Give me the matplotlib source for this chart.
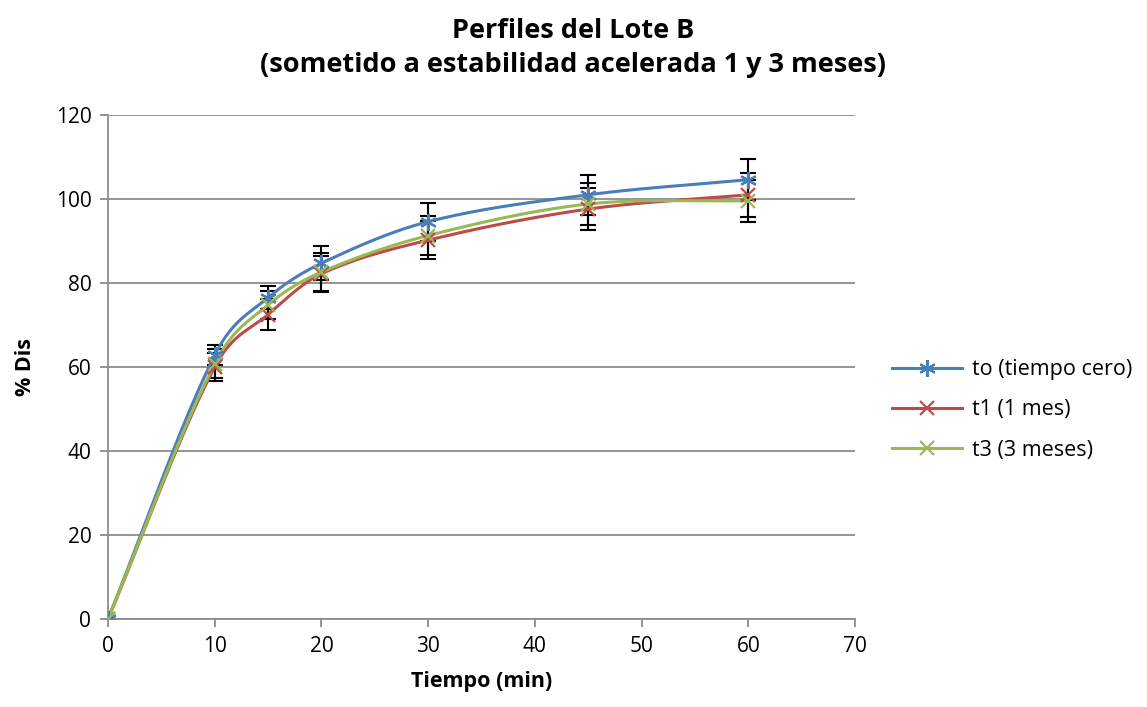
import numpy as np
import matplotlib
matplotlib.use("Agg")
import matplotlib.pyplot as plt
from matplotlib.lines import Line2D

plt.rcParams['font.family'] = ['Open Sans', 'DejaVu Sans']

tiempo = [0, 10, 15, 20, 30, 45, 60]
t0_vals = [0, 62.8, 76.5, 84.7, 94.6, 101.0, 104.6]
t0_err = [0, 2.4, 2.8, 4.1, 4.5, 4.7, 4.9]
t1_vals = [0, 60.0, 72.5, 82.2, 90.2, 97.6, 101.0]
t1_err = [0, 3.3, 3.7, 4.3, 4.5, 5.0, 5.2]
t3_vals = [0, 60.8, 74.8, 82.6, 91.3, 98.8, 99.6]
t3_err = [0, 3.4, 3.4, 4.5, 4.6, 5.0, 5.0]
labels = ["to (tiempo cero)", "t1 (1 mes)", "t3 (3 meses)"]
colors = ["#4A7EBB", "#BE4B48", "#98B954"]
markers = [(6, 2, 0), "x", "x"]
msizes = [12, 10, 10]


def smooth(x, y, n=60):
    x = np.asarray(x, float); y = np.asarray(y, float)
    k = len(x)
    d = np.zeros(k)
    for i in range(k):
        if i == 0:
            d[i] = (y[1] - y[0]) / (x[1] - x[0])
        elif i == k - 1:
            d[i] = (y[-1] - y[-2]) / (x[-1] - x[-2])
        else:
            d[i] = (y[i + 1] - y[i - 1]) / (x[i + 1] - x[i - 1])
    xs, ys = [x[0]], [y[0]]
    for i in range(k - 1):
        h = x[i + 1] - x[i]
        t = np.linspace(0, 1, n)[1:]
        h00 = 2 * t ** 3 - 3 * t ** 2 + 1
        h10 = t ** 3 - 2 * t ** 2 + t
        h01 = -2 * t ** 3 + 3 * t ** 2
        h11 = t ** 3 - t ** 2
        yy = h00 * y[i] + h10 * h * d[i] + h01 * y[i + 1] + h11 * h * d[i + 1]
        xs.extend(x[i] + t * h)
        ys.extend(yy)
    return np.array(xs), np.array(ys)


fig = plt.figure(figsize=(11.47, 7.07), dpi=100)
ax = fig.add_axes([108 / 1147, 1 - 619 / 707, (855 - 108) / 1147, (619 - 115) / 707])

series = [(t0_vals, t0_err), (t1_vals, t1_err), (t3_vals, t3_err)]
handles = []
for (vals, err) in series:
    ax.errorbar(tiempo, vals, yerr=err, fmt='none', ecolor='black', elinewidth=1.5,
                capsize=5.5, capthick=1.5, zorder=2)
for (vals, err), c, m, ms, lab in zip(series, colors, markers, msizes, labels):
    sx, sy = smooth(tiempo, vals)
    ax.plot(sx, sy, color=c, lw=2.2, zorder=3, solid_capstyle='round')
    ax.plot(tiempo, vals, ls='none', marker=m, color=c, ms=ms, mew=1.6, zorder=4)
    handles.append(Line2D([0], [0], color=c, lw=2.2, marker=m, ms=ms, mew=1.6))

ax.set_xlim(0, 70)
ax.set_ylim(0, 120)
ax.set_xticks(range(0, 71, 10))
ax.set_yticks(range(0, 121, 20))
ax.yaxis.grid(True, color='#8C8C8C', lw=1.3)
ax.set_axisbelow(True)
for s in ['top', 'right']:
    ax.spines[s].set_visible(False)
for s in ['left', 'bottom']:
    ax.spines[s].set_color('#8C8C8C')
    ax.spines[s].set_linewidth(1.3)
ax.tick_params(axis='both', colors='#8C8C8C', length=6, width=1.3, labelsize=15,
               labelcolor='black', direction='out')
ax.tick_params(axis='x', pad=6)
ax.tick_params(axis='y', pad=6)

ax.set_xlabel("Tiempo (min)", fontsize=15.5, fontweight='bold', labelpad=10)
ax.set_ylabel("% Dis", fontsize=15.5, fontweight='bold', labelpad=14)

fig.text(0.5, 1 - 48 / 707, "Perfiles del Lote B\n(sometido a estabilidad acelerada 1 y 3 meses)",
         ha='center', va='center', fontsize=19.5, fontweight='bold', linespacing=1.45)

fig.legend(handles, labels, loc='center left', bbox_to_anchor=(873 / 1147, 1 - 410 / 707),
           frameon=False, fontsize=15.5, handlelength=3.25, labelspacing=0.9, handletextpad=0.45)

fig.savefig("out.png", dpi=100)
